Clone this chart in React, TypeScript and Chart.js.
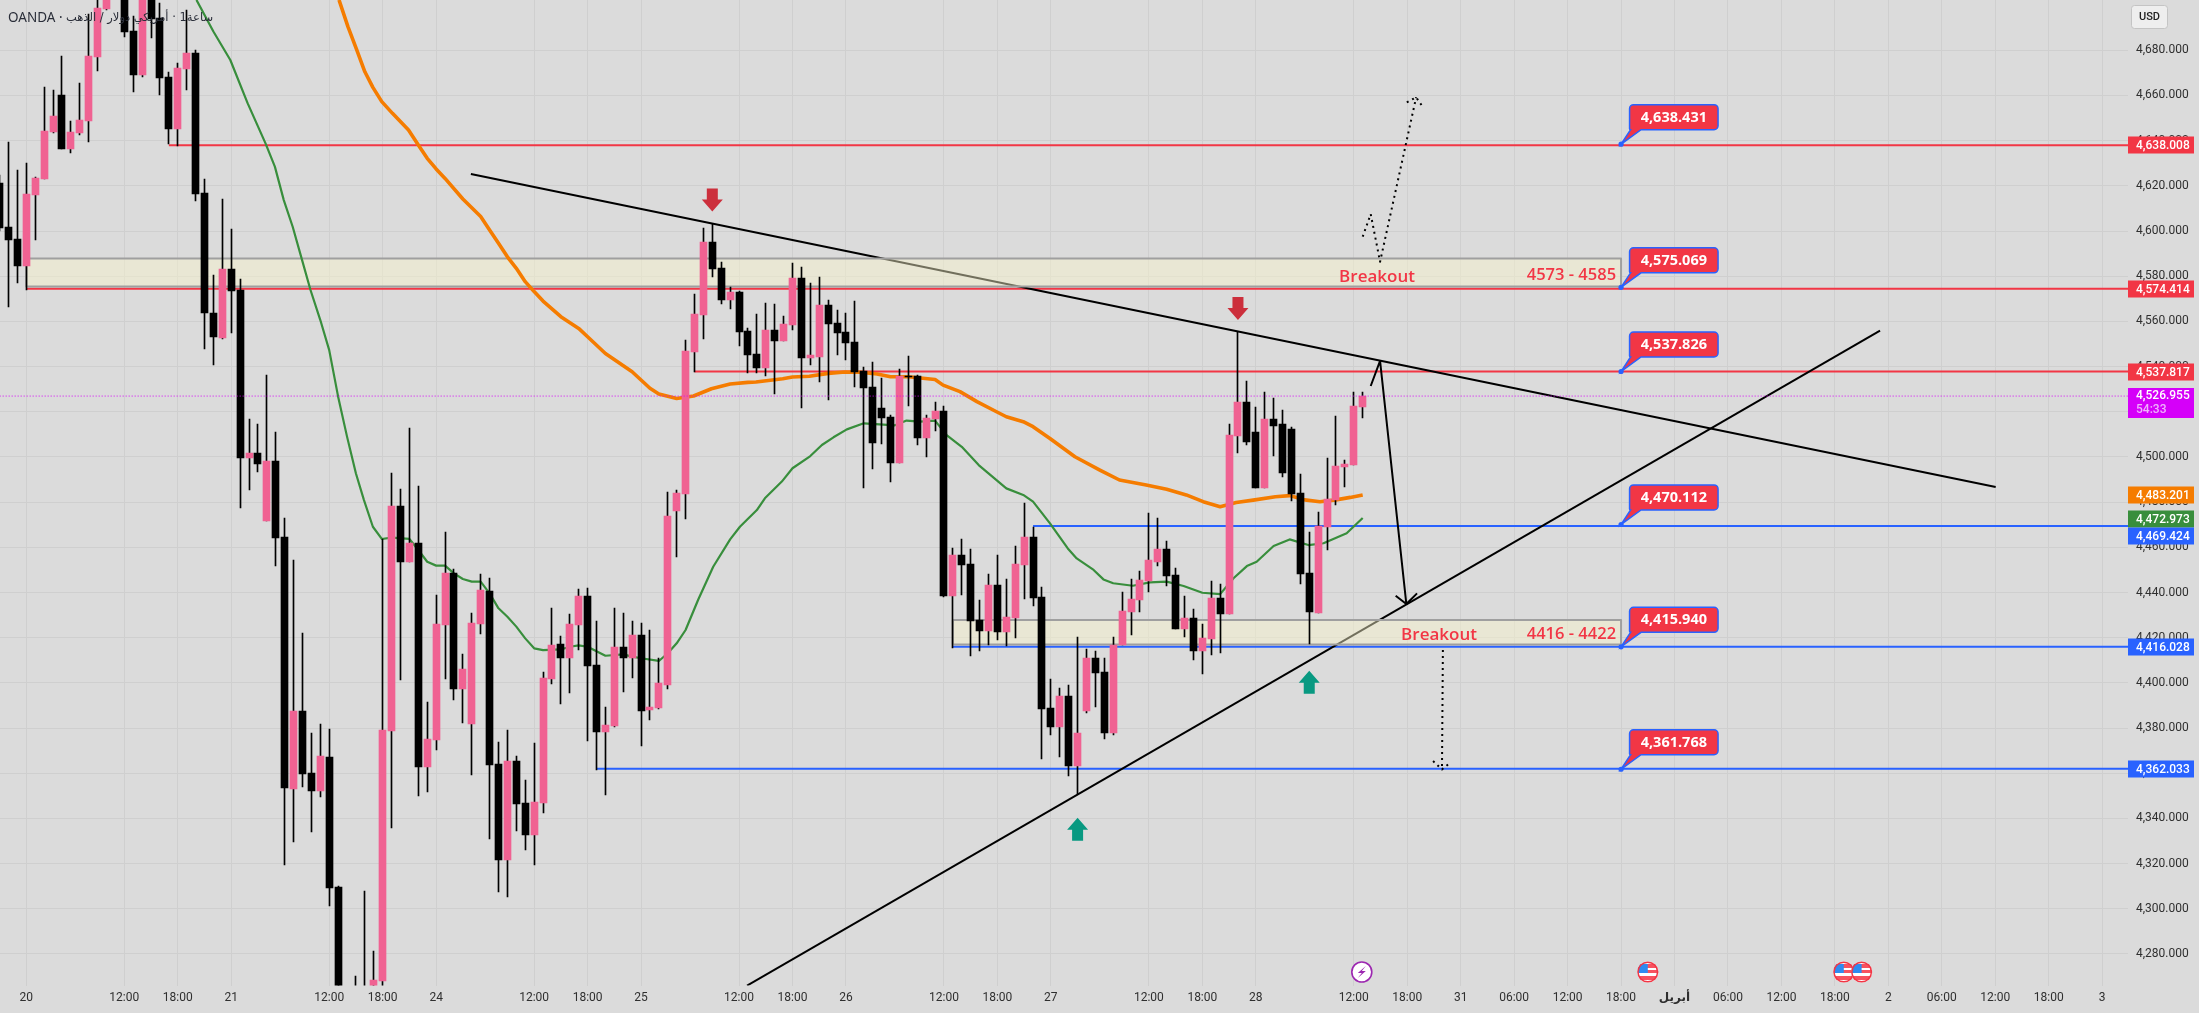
import React, { useEffect, useRef } from "react";
import { Chart, registerables } from "chart.js";

Chart.register(...registerables);

const firstBar = -3;
const opens = [
  4621.3,4601.8,4596.5,4584.7,4616.0,4623.0,4643.7,4660.2,4636.3,4643.3,
  4648.7,4677.0,4698.3,4716,4722,4688.5,4669.1,4712,4694.3,4668.2,
  4645.2,4671.7,4678.8,4616.8,4563.7,4552.6,4583.2,4573.9,4499.5,4501.7,
  4471.8,4498.2,4464.6,4353.0,4387.5,4360.1,4352.1,4367.2,4309.6,4248,
  4258,4262,4262,4268.0,4378.7,4478.3,4453.5,4461.9,4362.7,4374.7,
  4425.6,4448.6,4397.3,4381.8,4426.0,4440.7,4364.1,4321.6,4365.4,4346.8,
  4332.6,4346.8,4401.7,4417.2,4411.0,4425.6,4438.4,4407.9,4378.2,4380.9,
  4415.9,4411.0,4421.2,4388.0,4388.9,4399.0,4476.1,4483.6,4546.4,4562.8,
  4595.1,4583.6,4569.5,4573.0,4555.7,4545.6,4539.4,4556.2,4551.3,4558.4,
  4579.2,4543.8,4544.2,4567.2,4559.3,4555.3,4550.9,4538.0,4531.0,4521.7,
  4517.7,4497.3,4536.0,4535.8,4508.4,4516.8,4520.3,4438.4,4456.6,4452.6,
  4427.8,4423.0,4443.3,4422.5,4428.7,4452.2,4464.6,4438.0,4388.9,4380.5,
  4394.2,4363.2,4387.5,4411.0,4404.8,4377.8,4416.8,4431.4,4436.7,4445.1,
  4453.5,4459.3,4447.7,4423.8,4428.7,4414.1,4419.4,4437.6,4430.5,4509.3,
  4524.3,4511.0,4486.2,4516.8,4514.6,4512.4,4484.0,4448.6,4430.9,4469.0,
  4480.9,4495.5,4496.4,4522.1,
];
const closes = [
  4601.5,4596.0,4584.7,4616.4,4623.5,4644.3,4650.9,4636.3,4643.8,4649.2,
  4677.5,4698.7,4715,4725,4688.1,4669.1,4712,4693.9,4667.9,4645.2,
  4672.2,4678.8,4616.4,4563.7,4553.1,4583.2,4573.4,4499.5,4501.7,4496.9,
  4498.2,4464.1,4353.4,4387.5,4359.6,4352.1,4367.6,4309.2,4262,4256,
  4262,4258,4268.4,4379.1,4478.3,4453.5,4461.9,4362.7,4375.1,4426.1,
  4448.6,4397.3,4406.1,4426.5,4441.1,4363.6,4321.6,4365.4,4346.4,4332.6,
  4347.3,4402.1,4416.7,4411.0,4426.1,4438.4,4407.4,4378.2,4381.3,4415.9,
  4411.0,4421.2,4387.5,4389.3,4399.9,4473.9,4484.0,4546.9,4563.3,4595.1,
  4583.2,4569.5,4573.0,4555.3,4545.1,4539.4,4556.2,4551.3,4558.8,4579.2,
  4543.8,4545.1,4567.2,4558.8,4554.9,4550.4,4537.6,4530.5,4506.2,4517.2,
  4497.3,4535.8,4535.4,4508.4,4517.2,4520.3,4438.4,4456.6,4452.2,4427.4,
  4423.0,4443.3,4422.5,4429.1,4452.6,4464.6,4437.6,4388.4,4380.5,4394.2,
  4363.2,4377.8,4411.0,4404.4,4377.8,4416.8,4431.8,4437.1,4445.5,4454.4,
  4459.3,4447.3,4423.8,4428.7,4414.1,4419.9,4437.6,4430.5,4509.7,4524.3,
  4506.6,4486.2,4516.8,4513.7,4492.9,4483.6,4448.2,4431.4,4469.4,4481.4,
  4496.0,4496.9,4522.5,4526.955,
];
const highs = [
  4625,4639.3,4627.0,4630.0,4623.8,4663.6,4662.4,4677.5,4648.8,4665.4,
  4696.1,4708,4722,4730,4730,4695,4718,4720,4700.8,4670.5,
  4674.2,4697.8,4680.1,4623.0,4580.5,4614.2,4600.9,4578.6,4516.8,4514.6,
  4536.3,4511.0,4472.8,4454.4,4422.1,4377.8,4381.8,4379.6,4310,4262,
  4270.2,4307.8,4281.3,4463.5,4493.0,4485.7,4512.7,4487.1,4391.5,4438.9,
  4466.8,4450.4,4412.8,4430.9,4448.2,4446.4,4373.8,4379.1,4367.6,4357.0,
  4373.4,4404.8,4433.1,4420.7,4430.5,4441.5,4442.0,4427.4,4389.3,4433.1,
  4430.9,4427.4,4426.5,4423.4,4411.0,4484.3,4485.4,4551.8,4572.1,4601.3,
  4603.1,4586.3,4575.2,4573.5,4557.1,4563.3,4568.1,4567.7,4562.4,4585.8,
  4584.1,4577.0,4579.7,4569.5,4565.0,4563.7,4569.0,4539.8,4542.0,4534.9,
  4518.6,4538.9,4544.7,4536.3,4518.6,4524.3,4522.5,4459.7,4463.7,4459.3,
  4436.7,4448.2,4456.6,4446.0,4460.6,4479.6,4469.0,4442.4,4401.7,4397.7,
  4399.0,4420.3,4415.0,4414.1,4411.0,4420.3,4440.2,4446.0,4449.5,4475.2,
  4473.0,4462.8,4450.8,4438.4,4432.7,4426.1,4445.1,4443.8,4514.6,4555.3,
  4533.6,4522.1,4528.8,4526.1,4520.8,4513.2,4492.4,4466.8,4475.6,4499.5,
  4518.1,4498.6,4528.8,4528.8,
];
const lows = [
  4600,4566.5,4576.8,4573.9,4596.0,4623.0,4643.3,4636.3,4634.4,4642.5,
  4639.4,4671.0,4698,4706,4686.0,4661.7,4668.3,4685.3,4660.2,4638.5,
  4637.8,4662.4,4613.3,4547.8,4540.7,4552.2,4554.7,4477.4,4485.4,4493.3,
  4471.8,4451.7,4319.4,4329.5,4353.7,4333.9,4349.5,4301.2,4255,4240,
  4250,4250,4258,4262,4335.7,4401.3,4453.5,4349.9,4351.7,4370.3,
  4401.7,4392.4,4382.2,4359.2,4421.6,4330.9,4307.4,4305.2,4334.4,4326.0,
  4319.4,4342.4,4399.5,4390.6,4395.5,4414.5,4374.3,4361.4,4350.4,4380.4,
  4395.9,4402.1,4372.0,4383.5,4388.4,4397.3,4455.7,4472.5,4537.6,4552.2,
  4579.7,4567.7,4565.5,4549.1,4537.1,4537.1,4535.8,4527.9,4551.3,4556.2,
  4521.7,4540.7,4533.2,4525.2,4545.1,4542.9,4530.9,4486.2,4494.7,4505.7,
  4488.9,4497.3,4522.5,4505.3,4500.0,4511.5,4438.0,4415.3,4438.9,4411.9,
  4414.1,4416.8,4419.0,4416.3,4419.9,4437.1,4434.0,4366.3,4376.9,4367.2,
  4358.8,4350.8,4386.7,4389.3,4375.1,4376.9,4416.8,4421.2,4431.4,4440.2,
  4451.7,4442.9,4423.8,4420.3,4410.1,4403.9,4412.3,4413.2,4430.5,4501.7,
  4505.3,4486.2,4486.2,4500.4,4491.1,4480.5,4443.8,4417.2,4430.9,4458.8,
  4478.7,4486.7,4496.4,4517.2,
];

const orangeBars = [35.1,36.1,37.1,38,38.9,39.9,41.1,42.9,44,45,46,47,49,51,52,53,54,55,56,57,58,60,62,63,65,68,70,71,73,74.9,76.9,79,81,81.9,84.9,86,87.9,90,91.9,93.6,95.5,97,99,102,102.9,104.8,106.7,108.9,110,111.9,113,114.9,117.7,120.5,122.7,125.7,128,130.2,132.1,134,135.8,137.9,140.2,141.8,143.5,145.2,147,148.6,150];
const orangeValues = [4702.3,4690.5,4680.1,4670.5,4663.6,4657.3,4652.1,4644.7,4638.1,4632.2,4627.5,4623.3,4614.2,4606.4,4600.5,4594.6,4588.6,4583.5,4577.6,4573.2,4569.0,4562.1,4556.9,4553.2,4545.8,4537.7,4530.4,4527.9,4525.9,4527.0,4530.2,4532.3,4533.0,4533.2,4534.6,4535.4,4535.7,4537.0,4537.6,4537.5,4536.7,4535.5,4535.5,4534.3,4531.8,4528.9,4524.5,4520.0,4517.8,4515.6,4513.4,4508.2,4500.1,4494.2,4489.8,4487.6,4485.7,4483.2,4480.2,4478.0,4479.8,4481.0,4482.4,4482.9,4481.0,4480.2,4481.0,4482.1,4483.201];
const greenBars = [19.1,21,22.9,24.85,26.85,27.9,28.9,29.9,30.9,31.9,33,34,35,36,37,37.9,38.9,39.9,41,43,44,45,46,47,48,49,50,51,52,53,54,55,56,57,58,60,61,62,63,65,67,68,69,71,72,73,74,75.4,77.1,79,80.1,82,82.9,84.8,86,88,89.3,90.6,92.1,94,96.2,97.5,98.8,100.3,102,103.3,105,106.9,108,110,111.9,113,114.9,116.9,117.9,119.8,120.9,122,124.2,126.1,128,129.9,132,134,135.5,137,138.1,140,141.8,143.9,145.6,148.2,150];
const greenValues = [4702.3,4688.3,4675.7,4656.5,4638.8,4628.5,4613.7,4601.9,4587.9,4573.9,4560.6,4547.3,4526.7,4509.0,4492.7,4480.9,4469.1,4463.7,4464.3,4463.7,4458.8,4453.6,4451.9,4451.9,4448.5,4446.0,4444.8,4444.8,4439.6,4433.0,4429.3,4424.9,4419.7,4415.3,4414.5,4414.8,4416.0,4416.6,4416.0,4412.0,4412.6,4411.6,4410.9,4409.7,4413.1,4417.5,4423.4,4436.7,4451.4,4463.5,4469.1,4476.5,4481.7,4489.1,4495.0,4500.4,4505.3,4508.7,4512.2,4514.9,4514.3,4514.0,4516.1,4515.6,4516.1,4509.7,4504.5,4496.4,4492.7,4486.1,4483.2,4480.2,4470.6,4459.5,4455.1,4450.0,4445.8,4444.1,4443.0,4444.5,4444.8,4442.9,4439.9,4439.3,4446.3,4451.7,4453.6,4460.6,4463.5,4461.0,4461.8,4466.2,4472.973];

// time axis
const xTickBars = [0,11,17,23,34,40,46,57,63,69,80,86,92,103,109,115,126,132,138,149,155,161,167,173,179,185,191,197,203,209,215,221,227,233];
const xTickLabels = ["20","12:00","18:00","21","12:00","18:00","24","12:00","18:00","25","12:00","18:00","26","12:00","18:00","27","12:00","18:00","28","12:00","18:00","31","06:00","12:00","18:00","أبريل","06:00","12:00","18:00","2","06:00","12:00","18:00","3"];
const yTickValues = [4280,4300,4320,4340,4360,4380,4400,4420,4440,4460,4480,4500,4520,4540,4560,4580,4600,4620,4640,4660,4680];

// support / resistance levels: [start bar, price]
const redLevels = [[16,4638.008],[0,4574.414],[75,4537.817]];
const blueLevels = [[113,4469.424],[104,4416.028],[64,4362.033]];
const lastBarAxis = 236;
const lastPrice = 4526.955;

// drawn trend lines and arrows, [bar, price] pairs
const fallingTrend = [[49.9,4625.25],[221.05,4486.7]];
const risingTrend = [[80.9,4266],[208.07,4555.9]];
const solidArrow = [[150.9,4531.4],[151.95,4542.5],[154.9,4434.9]];
const solidArrowHead = [[153.7,4438.6],[154.9,4434.9],[156.1,4439.6]];
const dottedUp = [[150,4597.5],[150.9,4607.5],[151.95,4586.4],[156,4659.2]];
const dottedUpHead = [[154.95,4657],[156,4659.2],[156.8,4654.6]];
const dottedDown = [[159,4414.5],[158.9,4361.7]];
const dottedDownHead = [[157.9,4365.4],[158.9,4361.7],[159.8,4364.6]];

// zones: bar range and price range
const zoneBars = [0,179];
const upperZone = [4587.9,4575.4];
const lowerZoneBars = [104,179];
const lowerZone = [4427.8,4417.0];

// texts and markers
const calloutBar = 179;
const calloutPrices = [4638.431,4575.069,4537.826,4470.112,4415.94,4361.768];
const downMarkers = [[77,4608.6],[136,4560.6]];
const upMarkers = [[118,4340.3],[144,4405.4]];
const headerParts = ["OANDA · ", "الذهب", " / ", "دولار", " ", "أمريكي", " · 1", "ساعة"];
const axisTags = [
  { price: 4638.008, text: "4,638.008", color: "#f23645", shift: 0 },
  { price: 4574.414, text: "4,574.414", color: "#f23645", shift: 0 },
  { price: 4537.817, text: "4,537.817", color: "#f23645", shift: 0 },
  { price: 4483.201, text: "4,483.201", color: "#f57c00", shift: 0 },
  { price: 4472.973, text: "4,472.973", color: "#388e3c", shift: 1 },
  { price: 4469.424, text: "4,469.424", color: "#2962ff", shift: 10 },
  { price: 4416.028, text: "4,416.028", color: "#2962ff", shift: 0 },
  { price: 4362.033, text: "4,362.033", color: "#2962ff", shift: 0 },
];

const BG = "#dbdbdb";
const GRID = "#cfcfcf";
const PINK = "#f06292";
const RED = "#f23645";
const BLUE = "#2962ff";
const AXIS_FONT = "Roboto";
const pts = (a: number[][]) => a.map(([x, y]) => ({ x, y }));
const fmt = (v: number) => v.toLocaleString("en-US", { minimumFractionDigits: 3, maximumFractionDigits: 3 });
const noPadding = (s: any) => {
  s.paddingTop = 0;
  s.paddingBottom = 0;
  s.paddingLeft = 0;
  s.paddingRight = 0;
};

const crispBars = {
  id: "crispBars",
  afterDatasetsUpdate(chart: any) {
    chart.getSortedVisibleDatasetMetas().forEach((m: any) => {
      if (m.type !== "bar") return;
      m.data.forEach((el: any) => {
        el.x = Math.floor(el.x) + 0.5;
        const a = Math.round(el.y), b = Math.round(el.base);
        el.y = a;
        el.base = a === b ? a + 1 : b;
        el.height = el.base - el.y;
      });
    });
  },
};

const bgPlugin = {
  id: "bg",
  beforeDraw(chart: any) {
    const c = chart.ctx;
    c.save();
    c.fillStyle = BG;
    c.fillRect(0, 0, chart.width, chart.height);
    c.restore();
  },
};

function drawMarker(c: any, x: number, y: number, dir: number, color: string) {
  c.fillStyle = color;
  c.beginPath();
  c.moveTo(x, y);
  c.lineTo(x + 10.5, y + dir * 12);
  c.lineTo(x + 5.5, y + dir * 12);
  c.lineTo(x + 5.5, y + dir * 23);
  c.lineTo(x - 5.5, y + dir * 23);
  c.lineTo(x - 5.5, y + dir * 12);
  c.lineTo(x - 10.5, y + dir * 12);
  c.closePath();
  c.fill();
}

function drawFlag(c: any, x: number, y: number) {
  c.save();
  c.beginPath();
  c.arc(x, y, 10.5, 0, Math.PI * 2);
  c.fillStyle = "#ffffff";
  c.fill();
  c.clip();
  c.fillStyle = "#f7525f";
  c.fillRect(x - 9, y - 8, 20, 4);
  c.fillRect(x - 1, y - 2, 12, 3);
  c.fillRect(x - 9, y + 4, 20, 4);
  c.fillStyle = "#2e8bf0";
  c.fillRect(x - 10, y - 8, 10, 9);
  c.restore();
  c.beginPath();
  c.arc(x, y, 9.8, 0, Math.PI * 2);
  c.strokeStyle = "#f23645";
  c.lineWidth = 1.5;
  c.stroke();
}

const overlay = {
  id: "overlay",
  afterDatasetsDraw(chart: any) {
    const c = chart.ctx;
    const X = chart.scales.x, Y = chart.scales.y;
    c.save();
    // markers
    downMarkers.forEach(([b, p]) => drawMarker(c, X.getPixelForValue(b), Y.getPixelForValue(p), -1, "#cc2f3c"));
    upMarkers.forEach(([b, p]) => drawMarker(c, X.getPixelForValue(b), Y.getPixelForValue(p), 1, "#089981"));

    // zone text
    c.fillStyle = RED;
    c.textBaseline = "middle";
    c.textAlign = "center";
    c.font = "600 17px 'Open Sans'";
    c.fillText("Breakout", 1377, Y.getPixelForValue(4579.5));
    c.fillText("Breakout", 1439, Y.getPixelForValue(4421));
    c.textAlign = "right";
    c.font = "600 16.5px 'Open Sans'";
    c.fillText("4573 - 4585", X.getPixelForValue(calloutBar) - 5, Y.getPixelForValue(4580.6));
    c.fillText("4416 - 4422", X.getPixelForValue(calloutBar) - 5, Y.getPixelForValue(4421.3));

    // callouts
    calloutPrices.forEach((p) => {
      const dx = X.getPixelForValue(calloutBar);
      const dy = Y.getPixelForValue(p);
      const l = dx + 8.5, r = dx + 97, t = dy - 39.5, b = dy - 14.5, rad = 4;
      c.beginPath();
      c.moveTo(l + rad, t);
      c.lineTo(r - rad, t);
      c.arcTo(r, t, r, t + rad, rad);
      c.lineTo(r, b - rad);
      c.arcTo(r, b, r - rad, b, rad);
      c.lineTo(dx + 20, b);
      c.lineTo(dx, dy);
      c.lineTo(l + 1, b);
      c.arcTo(l, b, l, b - rad, 1);
      c.lineTo(l, t + rad);
      c.arcTo(l, t, l + rad, t, rad);
      c.closePath();
      c.fillStyle = RED;
      c.fill();
      c.strokeStyle = BLUE;
      c.lineWidth = 1.5;
      c.stroke();
      c.beginPath();
      c.arc(dx, dy, 2.6, 0, Math.PI * 2);
      c.fillStyle = BLUE;
      c.fill();
      c.fillStyle = "#ffffff";
      c.textAlign = "center";
      c.font = "700 14.5px 'Open Sans'";
      c.fillText(fmt(p), (l + r) / 2, (t + b) / 2 + 0.5);
    });

    // header, written piece by piece so the pieces stay in reading order from the left
    c.textAlign = "left";
    c.fillStyle = "#2a2e39";
    c.direction = "ltr";
    let hx = 8;
    headerParts.forEach((part, i) => {
      c.font = i === 0 ? "13.5px 'Noto Sans', 'DejaVu Sans'" : "11.5px 'DejaVu Sans'";
      c.fillText(part, hx, 18);
      hx += c.measureText(part).width;
    });

    // calendar icons
    const iy = 972;
    const bx = X.getPixelForValue(149.9);
    c.beginPath();
    c.arc(bx, iy, 10, 0, Math.PI * 2);
    c.fillStyle = "#ffffff";
    c.fill();
    c.strokeStyle = "#9c27b0";
    c.lineWidth = 1.6;
    c.stroke();
    c.beginPath();
    c.moveTo(bx + 4, iy - 6);
    c.lineTo(bx - 4, iy + 1);
    c.lineTo(bx, iy + 1);
    c.lineTo(bx - 4, iy + 6);
    c.lineTo(bx + 4, iy - 1);
    c.lineTo(bx, iy - 1);
    c.closePath();
    c.fillStyle = "#9c27b0";
    c.fill();
    drawFlag(c, X.getPixelForValue(182), iy);
    drawFlag(c, X.getPixelForValue(204), iy);
    drawFlag(c, X.getPixelForValue(206), iy);
    c.restore();
  },
  afterDraw(chart: any) {
    const c = chart.ctx;
    const Y = chart.scales.y;
    const left = 2128, w = 66;
    c.save();
    c.textBaseline = "middle";
    c.textAlign = "left";
    axisTags.forEach((t) => {
      const y = Math.round(Y.getPixelForValue(t.price)) + t.shift;
      c.fillStyle = t.color;
      c.fillRect(left, y - 8.5, w, 17);
      c.fillStyle = "#ffffff";
      c.font = `500 12px ${AXIS_FONT}`;
      c.fillText(t.text, left + 8, y + 0.5);
    });
    const py = Math.round(Y.getPixelForValue(lastPrice));
    c.fillStyle = "#d500f9";
    c.fillRect(left, py - 8, w, 30);
    c.fillStyle = "#ffffff";
    c.font = `500 12px ${AXIS_FONT}`;
    c.fillText(fmt(lastPrice), left + 8, py);
    c.fillStyle = "#efb3fb";
    c.fillText("54:33", left + 8, py + 14);

    // currency badge
    c.fillStyle = "#eeeeee";
    c.strokeStyle = "#c4c4c4";
    c.lineWidth = 1;
    c.beginPath();
    c.roundRect(2131.5, 5.5, 36, 23, 3);
    c.fill();
    c.stroke();
    c.fillStyle = "#222222";
    c.textAlign = "center";
    c.font = `500 11px ${AXIS_FONT}`;
    c.fillText("USD", 2149.5, 17.5);
    c.restore();
  },
};

export default function App() {
  const ref = useRef<HTMLCanvasElement>(null);
  useEffect(() => {
    const bars = opens.map((_, i) => i + firstBar);
    const lineDs = (data: any[], color: string, width: number, order: number, extra: any = {}) => ({
      type: "line",
      data,
      borderColor: color,
      borderWidth: width,
      pointRadius: 0,
      tension: 0,
      borderJoinStyle: "round",
      borderCapStyle: "butt",
      fill: false,
      order,
      ...extra,
    });
    const zone = (xr: number[], yr: number[]) =>
      lineDs(
        [
          { x: xr[0], y: yr[0] },
          { x: xr[1], y: yr[0] },
          { x: xr[1], y: yr[1] },
          { x: xr[0], y: yr[1] },
          { x: xr[0], y: yr[0] },
        ],
        "#9f9f9f",
        2,
        40,
        { fill: "shape", backgroundColor: "rgba(250,246,205,0.45)" }
      );
    const dotted = { borderDash: [2, 4], borderCapStyle: "butt" };
    const datasets: any[] = [
      ...redLevels.map(([b, p]) => lineDs([{ x: b, y: p }, { x: lastBarAxis, y: p }], RED, 2, 60)),
      ...blueLevels.map(([b, p]) => lineDs([{ x: b, y: p }, { x: lastBarAxis, y: p }], BLUE, 2, 60)),
      lineDs(pts(fallingTrend), "#000000", 2, 50),
      lineDs(pts(risingTrend), "#000000", 2, 50),
      zone(zoneBars, upperZone),
      zone(lowerZoneBars, lowerZone),
      lineDs(orangeBars.map((x, i) => ({ x, y: orangeValues[i] })), "#f57c00", 3.6, 30),
      lineDs(greenBars.map((x, i) => ({ x, y: greenValues[i] })), "#388e3c", 2.2, 29),
      {
        type: "bar",
        data: bars.map((x, i) => ({ x, y: [lows[i], highs[i]] })),
        backgroundColor: "#000000",
        barThickness: 1,
        grouped: false,
        order: 21,
      },
      {
        type: "bar",
        data: bars.map((x, i) => ({ x, y: [opens[i], closes[i]] })),
        backgroundColor: bars.map((_, i) => (closes[i] >= opens[i] ? PINK : "#000000")),
        barThickness: 7,
        grouped: false,
        order: 20,
      },
      lineDs([{ x: -4, y: lastPrice }, { x: lastBarAxis, y: lastPrice }], "#d500f9", 1, 10, { borderDash: [1, 2] }),
      lineDs(pts(solidArrow), "#000000", 2, 9),
      lineDs(pts(solidArrowHead), "#000000", 2, 9),
      lineDs(pts(dottedUp), "#000000", 2, 9, dotted),
      lineDs(pts(dottedUpHead), "#000000", 2, 9, dotted),
      lineDs(pts(dottedDown), "#000000", 2, 9, dotted),
      lineDs(pts(dottedDownHead), "#000000", 2, 9, dotted),
    ];
    const chart = new Chart(ref.current as HTMLCanvasElement, {
      type: "bar",
      data: { datasets },
      plugins: [bgPlugin, crispBars, overlay],
      options: {
        animation: false,
        responsive: false,
        devicePixelRatio: 1,
        layout: { padding: 0 },
        events: [],
        plugins: { legend: { display: false }, tooltip: { enabled: false } },
        scales: {
          x: {
            type: "linear",
            offset: false,
            min: -2.952,
            max: 235.9,
            grid: { color: GRID, offset: false, drawTicks: false, lineWidth: 1 },
            border: { display: false },
            afterFit: (s: any) => { s.height = 27.4; noPadding(s); },
            afterBuildTicks: (s: any) => { s.ticks = xTickBars.map((value) => ({ value })); },
            ticks: {
              autoSkip: false,
              maxRotation: 0,
              padding: 5,
              color: "#2f2f2f",
              font: (ctx: any) =>
                xTickLabels[ctx.index] === "أبريل"
                  ? { family: "'DejaVu Sans'", size: 12, weight: "bold" }
                  : { family: AXIS_FONT, size: 12 },
              callback: (v: any) => xTickLabels[xTickBars.indexOf(Number(v))] ?? "",
            },
          },
          y: {
            type: "linear",
            position: "right",
            min: 4266,
            max: 4702.27,
            grid: { color: GRID, drawTicks: false, lineWidth: 1 },
            border: { display: false },
            afterFit: (s: any) => { s.width = 71; noPadding(s); },
            afterBuildTicks: (s: any) => { s.ticks = yTickValues.map((value) => ({ value })); },
            ticks: {
              autoSkip: false,
              padding: 8,
              color: "#2f2f2f",
              font: { family: AXIS_FONT, size: 12 },
              callback: (v: any) => fmt(Number(v)),
            },
          },
        },
      },
    } as any);
    return () => chart.destroy();
  }, []);
  return (
    <div style={{ position: "fixed", left: 0, top: 0, width: 2199, height: 1013, overflow: "hidden", background: BG }}>
      <canvas ref={ref} width={2199} height={1013} style={{ display: "block" }} />
    </div>
  );
}
